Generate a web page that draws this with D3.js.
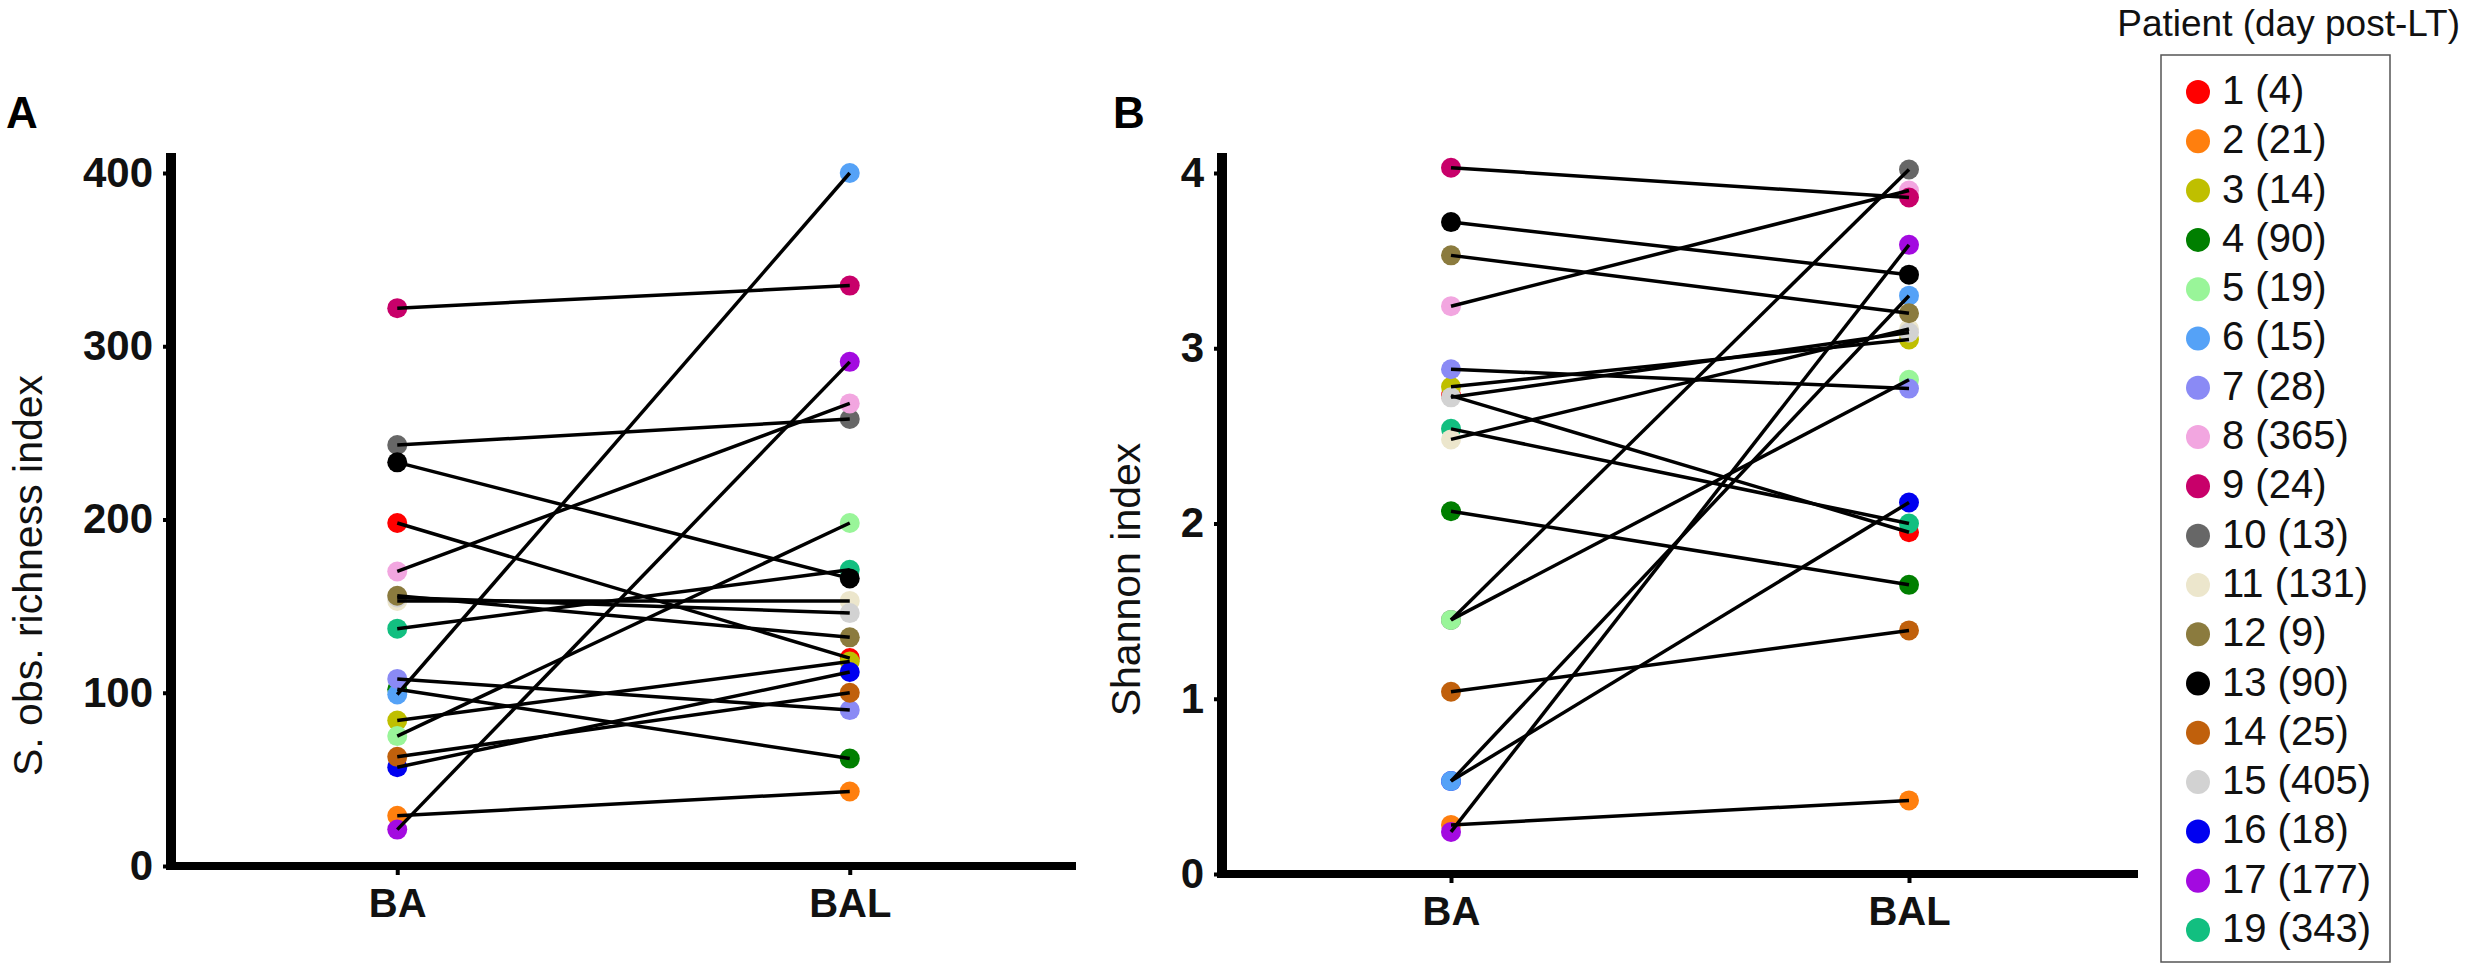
<!DOCTYPE html>
<html lang="en">
<head>
<meta charset="UTF-8">
<title>S. obs. richness and Shannon index, BA vs BAL</title>
<script src="https://d3js.org/d3.v7.min.js"></script>
<style>
  html, body { margin: 0; padding: 0; background: #fff; }
  svg { display: block; font-family: "Liberation Sans", Arial, sans-serif; }
  .axis .tick text { font-weight: bold; fill: #111; }
  .axis .tick line { stroke: #000; stroke-width: 4px; }
  .pair { fill: none; stroke: #000; stroke-width: 3.5px; }
</style>
</head>
<body>
<svg width="2467" height="972"></svg>
<script>
  // patients and day post-LT (legend order)
  const patients = ["1", "2", "3", "4", "5", "6", "7", "8", "9", "10", "11", "12", "13", "14", "15", "16", "17", "19"];
  const days     = [4, 21, 14, 90, 19, 15, 28, 365, 24, 13, 131, 9, 90, 25, 405, 18, 177, 343];
  const colors   = ["#ff0000", "#ff7f0e", "#bfbf00", "#007f00", "#99f599", "#55a2f7",
                    "#8a8af5", "#f2a6e0", "#c8006a", "#676767", "#ece6cc", "#8b7b3e",
                    "#000000", "#c0600c", "#d2d2d2", "#0000f0", "#a30ae0", "#12bf80"];
  const sites    = ["BA", "BAL"];
  // which dot ends up on top where they overlap (bottom first)
  const stackOrder = ["1", "2", "3", "4", "16", "19", "10", "5", "6", "7", "8", "9", "11", "15", "12", "13", "14", "17"];

  // panel A: S. obs. richness
  const richBA   = [198, 29, 84, 102, 75, 99, 108, 170, 322, 243, 153, 156, 233, 63, 155, 57, 21, 137];
  const richBAL  = [120, 43, 118, 62, 198, 400, 90, 267, 335, 258, 153, 132, 166, 100, 146, 112, 291, 171];
  const richTicks = [0, 100, 200, 300, 400];

  // panel B: Shannon index
  const shanBA   = [2.73, 0.28, 2.78, 2.07, 1.45, 0.53, 2.88, 3.24, 4.03, 1.45, 2.48, 3.53, 3.72, 1.04, 2.72, 0.53, 0.24, 2.54];
  const shanBAL  = [1.95, 0.42, 3.05, 1.65, 2.82, 3.30, 2.77, 3.90, 3.86, 4.02, 3.11, 3.20, 3.42, 1.39, 3.09, 2.12, 3.59, 2.00];
  const shanTicks = [0, 1, 2, 3, 4];

  const svg = d3.select("svg");

  const panels = [
    { letter: "A", title: "S. obs. richness index", ba: richBA, bal: richBAL, ticks: richTicks,
      left: 171, right: 1076, bottom: 866, top: 173, axisTop: 153, letterX: 6, titleX: 42 },
    { letter: "B", title: "Shannon index", ba: shanBA, bal: shanBAL, ticks: shanTicks,
      left: 1222, right: 2138, bottom: 874, top: 173, axisTop: 153, letterX: 1113, titleX: 1140 }
  ];

  panels.forEach(p => {
    const g = svg.append("g");

    const x = d3.scalePoint().domain(sites).range([p.left, p.right]).padding(0.5);
    const y = d3.scaleLinear().domain(d3.extent(p.ticks)).range([p.bottom, p.top]);

    // y axis
    const ya = g.append("g")
      .attr("class", "axis")
      .attr("transform", `translate(${p.left},0)`)
      .call(d3.axisLeft(y).tickValues(p.ticks).tickFormat(d3.format("d"))
        .tickSize(8).tickPadding(10).tickSizeOuter(0));
    ya.select(".domain").remove();
    ya.selectAll(".tick text").style("font-size", "42px");

    // x axis
    const xa = g.append("g")
      .attr("class", "axis")
      .attr("transform", `translate(0,${p.bottom})`)
      .call(d3.axisBottom(x).tickSize(9).tickPadding(14).tickSizeOuter(0));
    xa.select(".domain").remove();
    xa.selectAll(".tick text").style("font-size", "40px");

    g.append("line")
      .attr("x1", p.left).attr("x2", p.left)
      .attr("y1", p.axisTop).attr("y2", p.bottom + 4)
      .attr("stroke", "#000").attr("stroke-width", 10);
    g.append("line")
      .attr("x1", p.left - 5).attr("x2", p.right)
      .attr("y1", p.bottom).attr("y2", p.bottom)
      .attr("stroke", "#000").attr("stroke-width", 8);

    // axis title and panel letter
    g.append("text")
      .attr("transform", `translate(${p.titleX},${(p.top + p.bottom) / 2 + 56}) rotate(-90)`)
      .attr("text-anchor", "middle")
      .style("font-size", "41px")
      .attr("fill", "#111")
      .text(p.title);
    g.append("text")
      .attr("x", p.letterX).attr("y", 128)
      .style("font-size", "44px").style("font-weight", "bold")
      .text(p.letter);

    const rows = patients.map((id, i) => ({ id, color: colors[i], ba: p.ba[i], bal: p.bal[i] }));
    const stacked = stackOrder.map(id => rows.find(r => r.id === id));

    // points first, then the connecting lines on top
    stacked.forEach(d => {
      sites.forEach(s => {
        g.append("circle")
          .attr("cx", x(s))
          .attr("cy", y(s === "BA" ? d.ba : d.bal))
          .attr("r", 10)
          .attr("fill", d.color);
      });
    });

    const line = d3.line().x(e => x(e[0])).y(e => y(e[1]));
    g.selectAll("path.pair")
      .data(rows)
      .enter().append("path")
        .attr("class", "pair")
        .attr("d", d => line([["BA", d.ba], ["BAL", d.bal]]));
  });

  // legend
  const legend = svg.append("g");
  legend.append("text")
    .attr("x", 2460).attr("y", 36)
    .attr("text-anchor", "end")
    .style("font-size", "37px")
    .attr("fill", "#111")
    .text("Patient (day post-LT)");
  legend.append("rect")
    .attr("x", 2161).attr("y", 55)
    .attr("width", 229).attr("height", 907)
    .attr("fill", "none")
    .attr("stroke", "#555").attr("stroke-width", 1.5);

  const ly = d3.scalePoint().domain(patients).range([92, 930]);
  const items = legend.selectAll("g.item")
    .data(patients)
    .enter().append("g")
      .attr("class", "item")
      .attr("transform", d => `translate(0,${ly(d)})`);
  items.append("circle")
    .attr("cx", 2198).attr("cy", 0).attr("r", 12)
    .attr("fill", (d, i) => colors[i]);
  items.append("text")
    .attr("x", 2222).attr("y", 12)
    .style("font-size", "40px")
    .attr("fill", "#111")
    .text((d, i) => `${d} (${days[i]})`);
</script>
</body>
</html>
